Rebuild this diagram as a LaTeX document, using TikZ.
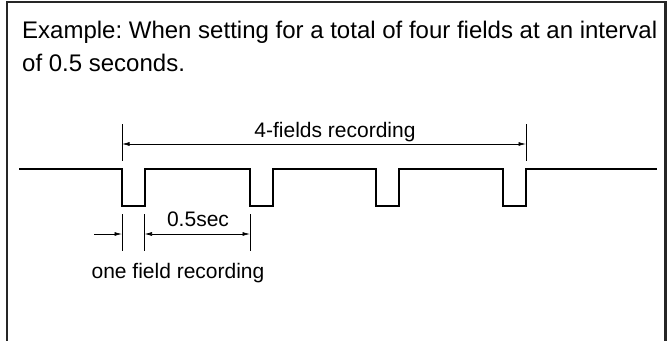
\documentclass[tikz,border=0pt]{standalone}
\usepackage{fontspec}
\setmainfont{Liberation Sans}
\usetikzlibrary{arrows.meta}
\frenchspacing
\begin{document}
\begin{tikzpicture}[x=1pt,y=-1pt,
  frame/.style={line width=2.2pt,draw=black!85},
  wave/.style={line width=2pt,line join=miter},
  ext/.style={line width=0.7pt},
  dim/.style={line width=0.7pt,-{Latex[length=7.5pt,width=4pt]}},
  ddim/.style={line width=0.7pt,{Latex[length=7.5pt,width=4pt]}-{Latex[length=7.5pt,width=4pt]}},
  title/.style={font=\fontsize{24}{28}\selectfont,inner sep=0pt,anchor=base west},
  lbl/.style={font=\fontsize{21}{25}\selectfont,inner sep=0pt,anchor=base}]
\useasboundingbox (0,0) rectangle (671,340);
% frame
\draw[frame] (7,341) -- (7,2) -- (665.5,2) -- (665.5,341);
% title
\node[title] (t1) at (22,38) {Example: When setting for a total of four fields at an interval};
\node[title] (t2) at (22,71) {of 0.5 seconds.};
% waveform
\coordinate (s) at (19,168.5);
\coordinate (e) at (657,168.5);
\draw[wave] (s) -- (122,168.5) -- (122,205.5) -- (144.5,205.5) -- (144.5,168.5)
  -- (250,168.5) -- (250,205.5) -- (272.5,205.5) -- (272.5,168.5)
  -- (376,168.5) -- (376,205.5) -- (399,205.5) -- (399,168.5)
  -- (503,168.5) -- (503,205.5) -- (526,205.5) -- (526,168.5) -- (e);
% top dimension
\coordinate (a1) at (122,124); \coordinate (a2) at (122,161);
\coordinate (b1) at (526,124); \coordinate (b2) at (526,161);
\draw[ext] (a1) -- (a2);
\draw[ext] (b1) -- (b2);
\coordinate (ta) at (122,144); \coordinate (tb) at (526,144);
\draw[ddim] (ta) -- (tb);
\node[lbl] (four) at (335,137) {4-fields recording};
% bottom dimensions
\coordinate (c1) at (122,214); \coordinate (c2) at (122,251);
\coordinate (d1) at (144.5,214); \coordinate (d2) at (144.5,251);
\coordinate (f1) at (250,214); \coordinate (f2) at (250,251);
\draw[ext] (c1) -- (c2);
\draw[ext] (d1) -- (d2);
\draw[ext] (f1) -- (f2);
\coordinate (la) at (94,234); \coordinate (lb) at (122,234);
\draw[dim] (la) -- (lb);
\coordinate (ha) at (144.5,234); \coordinate (hb) at (250,234);
\draw[ddim] (ha) -- (hb);
\node[lbl] (half) at (198,226) {0.5sec};
\node[lbl] (one) at (178,278) {one field recording};
\end{tikzpicture}
\end{document}
